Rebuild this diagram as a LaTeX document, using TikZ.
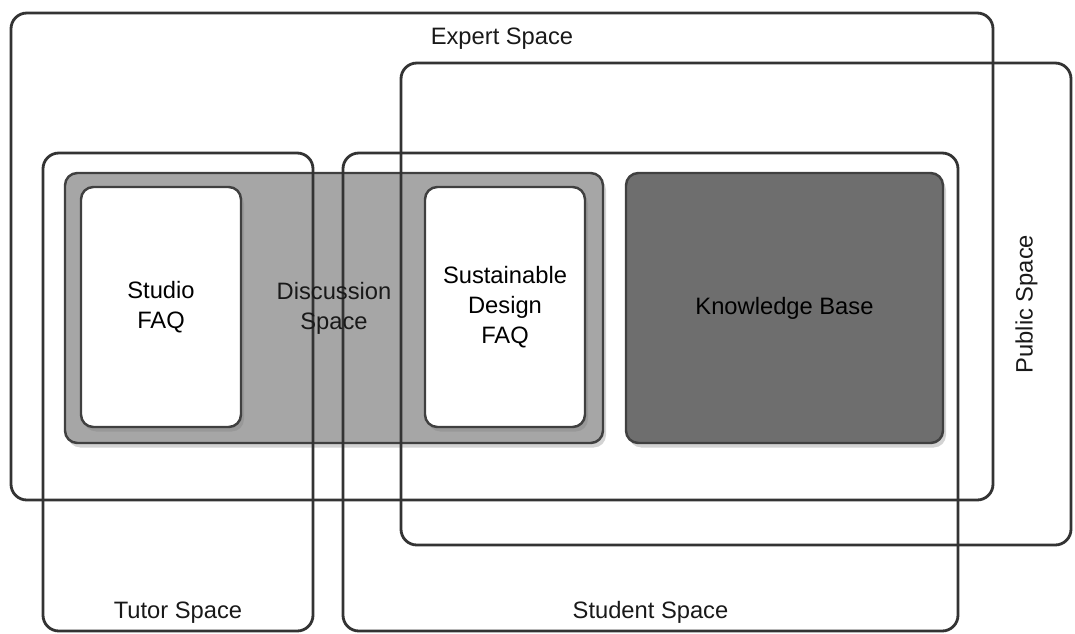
\documentclass[tikz,border=0pt]{standalone}
\usepackage{fontspec}
\setmainfont{Liberation Sans}
\usetikzlibrary{positioning,shadows}

\begin{document}
\begin{tikzpicture}[font=\fontsize{13.5}{17}\selectfont]
    \tikzstyle{box}=[rectangle, rounded corners=7pt, draw=black!75, line width=1.4pt, inner sep=0pt, align=center]
    \tikzstyle{shaded box}=[box, drop shadow={opacity=0.35, shadow xshift=0.6mm, shadow yshift=-0.9mm}]
    \tikzstyle{faq}=[shaded box, fill=white, minimum width=3.2cm, minimum height=4.8cm]
    \tikzstyle{space}=[rectangle, rounded corners=9pt, draw=black!80, line width=1.6pt, inner sep=0pt]
    \tikzstyle{annot}=[inner sep=0pt, align=center, text=black!90]

    \useasboundingbox (0,0) rectangle (21.5,-12.66);

    % Shared areas and the FAQ boxes inside them
    \node[shaded box, fill=black!35, minimum width=10.76cm, minimum height=5.4cm] (discussion) at (6.68,-6.16) {};
    \node[faq] (studio) at (3.22,-6.14) {Studio\\FAQ};
    \node[faq] (sustain) at (10.1,-6.14) {Sustainable\\Design\\FAQ};
    \node[shaded box, fill=black!57, minimum width=6.34cm, minimum height=5.4cm] (kb) at (15.69,-6.16) {Knowledge Base};

    % The four spaces, drawn over the areas
    \node[space, minimum width=19.64cm, minimum height=9.74cm] (expert) at (10.04,-5.13) {};
    \node[space, minimum width=13.4cm, minimum height=9.64cm] (public) at (14.72,-6.08) {};
    \node[space, minimum width=5.4cm, minimum height=9.56cm] (tutor) at (3.56,-7.84) {};
    \node[space, minimum width=12.3cm, minimum height=9.56cm] (student) at (13.01,-7.84) {};

    % Annotate the spaces
    \node[annot, below=0.32cm of expert.north] (el) {Expert Space};
    \node[annot, rotate=90] (pl) at ([xshift=-0.92cm]public.east) {Public Space};
    \node[annot, above=0.18cm of tutor.south] (tl) {Tutor Space};
    \node[annot, above=0.18cm of student.south] (sl) {Student Space};
    \node[annot] (dl) at (discussion) {Discussion\\Space};
\end{tikzpicture}
\end{document}
